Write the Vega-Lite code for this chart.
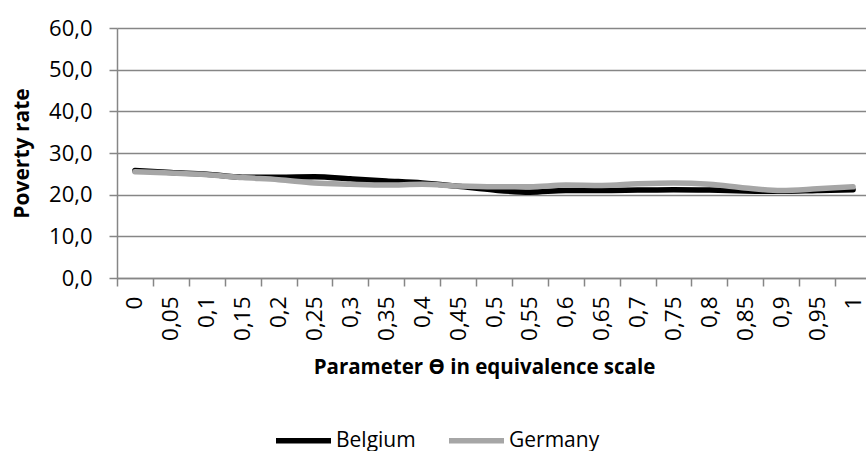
{
  "$schema": "https://vega.github.io/schema/vega-lite/v6.json",
  "autosize": "none",
  "width": 754,
  "height": 250,
  "padding": {"left": 117, "top": 28, "right": 0, "bottom": 173},
  "background": "white",
  "config": {
    "font": "Open Sans",
    "view": {"stroke": null}
  },
  "data": {
    "values": [
      {"theta": "0", "country": "Belgium", "rate": 25.8},
      {"theta": "0,05", "country": "Belgium", "rate": 25.3},
      {"theta": "0,1", "country": "Belgium", "rate": 24.9},
      {"theta": "0,15", "country": "Belgium", "rate": 24.2},
      {"theta": "0,2", "country": "Belgium", "rate": 24.2},
      {"theta": "0,25", "country": "Belgium", "rate": 24.3},
      {"theta": "0,3", "country": "Belgium", "rate": 23.8},
      {"theta": "0,35", "country": "Belgium", "rate": 23.3},
      {"theta": "0,4", "country": "Belgium", "rate": 22.8},
      {"theta": "0,45", "country": "Belgium", "rate": 22.0},
      {"theta": "0,5", "country": "Belgium", "rate": 21.1},
      {"theta": "0,55", "country": "Belgium", "rate": 20.6},
      {"theta": "0,6", "country": "Belgium", "rate": 21.0},
      {"theta": "0,65", "country": "Belgium", "rate": 21.0},
      {"theta": "0,7", "country": "Belgium", "rate": 21.1},
      {"theta": "0,75", "country": "Belgium", "rate": 21.2},
      {"theta": "0,8", "country": "Belgium", "rate": 21.1},
      {"theta": "0,85", "country": "Belgium", "rate": 20.9},
      {"theta": "0,9", "country": "Belgium", "rate": 20.8},
      {"theta": "0,95", "country": "Belgium", "rate": 21.0},
      {"theta": "1", "country": "Belgium", "rate": 21.2},
      {"theta": "0", "country": "Germany", "rate": 25.5},
      {"theta": "0,05", "country": "Germany", "rate": 25.2},
      {"theta": "0,1", "country": "Germany", "rate": 24.8},
      {"theta": "0,15", "country": "Germany", "rate": 24.1},
      {"theta": "0,2", "country": "Germany", "rate": 23.6},
      {"theta": "0,25", "country": "Germany", "rate": 22.8},
      {"theta": "0,3", "country": "Germany", "rate": 22.5},
      {"theta": "0,35", "country": "Germany", "rate": 22.3},
      {"theta": "0,4", "country": "Germany", "rate": 22.5},
      {"theta": "0,45", "country": "Germany", "rate": 22.1},
      {"theta": "0,5", "country": "Germany", "rate": 21.9},
      {"theta": "0,55", "country": "Germany", "rate": 21.9},
      {"theta": "0,6", "country": "Germany", "rate": 22.3},
      {"theta": "0,65", "country": "Germany", "rate": 22.2},
      {"theta": "0,7", "country": "Germany", "rate": 22.6},
      {"theta": "0,75", "country": "Germany", "rate": 22.8},
      {"theta": "0,8", "country": "Germany", "rate": 22.5},
      {"theta": "0,85", "country": "Germany", "rate": 21.6},
      {"theta": "0,9", "country": "Germany", "rate": 21.0},
      {"theta": "0,95", "country": "Germany", "rate": 21.4},
      {"theta": "1", "country": "Germany", "rate": 21.9}
    ]
  },
  "mark": {"type": "line", "strokeWidth": 5.5, "interpolate": "monotone", "strokeCap": "round"},
  "encoding": {
    "x": {
      "field": "theta",
      "type": "ordinal",
      "sort": null,
      "scale": {"paddingInner": 0, "paddingOuter": 0},
      "axis": {
        "title": "Parameter Ө in equivalence scale",
        "titleFont": "Open Sans",
        "titleFontSize": 20.5,
        "titleFontWeight": "bold",
        "titleColor": "black",
        "titlePadding": 17,
        "titleX": 367,
        "labelAngle": -90,
        "labelAlign": "right",
        "labelBaseline": "middle",
        "labelFontSize": 22.5,
        "labelColor": "black",
        "labelPadding": 10,
        "tickBand": "extent",
        "tickSize": 8,
        "tickColor": "#868686",
        "domainColor": "#868686",
        "domainWidth": 1.5,
        "tickWidth": 1.5,
        "grid": false
      }
    },
    "y": {
      "field": "rate",
      "type": "quantitative",
      "scale": {"domain": [0, 60], "nice": false},
      "axis": {
        "title": "Poverty rate",
        "titleFontSize": 21,
        "titleFontWeight": "bold",
        "titleColor": "black",
        "titlePadding": 16,
        "values": [0, 10, 20, 30, 40, 50, 60],
        "labelExpr": "replace(format(datum.value, '.1f'), '.', ',')",
        "labelFontSize": 22,
        "labelColor": "black",
        "labelPadding": 17,
        "tickSize": 8,
        "tickColor": "#868686",
        "tickWidth": 1.5,
        "domainColor": "#868686",
        "domainWidth": 1.5,
        "gridColor": "#868686",
        "gridWidth": 1.5
      }
    },
    "color": {
      "field": "country",
      "type": "nominal",
      "scale": {"domain": ["Belgium", "Germany"], "range": ["#000000", "#A6A6A6"]},
      "legend": {
        "title": null,
        "orient": "none",
        "direction": "horizontal",
        "legendX": 156,
        "legendY": 382,
        "padding": 0,
        "symbolType": "stroke",
        "symbolStrokeWidth": 5.5,
        "symbolSize": 3025,
        "labelFontSize": 21,
        "labelColor": "black",
        "labelOffset": 2,
        "columnPadding": 22
      }
    }
  }
}
